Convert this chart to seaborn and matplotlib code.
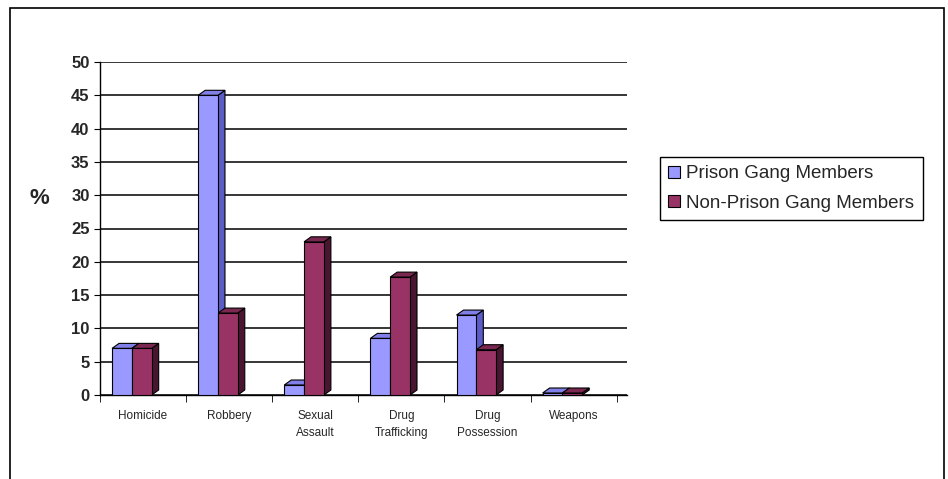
import pandas as pd
import matplotlib.pyplot as plt
import seaborn as sns
from matplotlib.patches import Polygon, Rectangle

sns.set_style('white')
plt.rcParams['font.family'] = ['Liberation Sans', 'DejaVu Sans']

categories = ['Homicide', 'Robbery', 'Sexual\nAssault', 'Drug\nTrafficking', 'Drug\nPossession', 'Weapons']
prison = [7, 45, 1.5, 8.5, 12, 0.3]
non_prison = [7, 12.3, 23, 17.7, 6.8, 0.3]
groups = ['Prison Gang Members', 'Non-Prison Gang Members']
colors = ['#9999FF', '#993366']
side_colors = ['#5C5CC8', '#4A1530']
top_colors = ['#8080E8', '#7A2850']

df = pd.DataFrame({
    'Crime': categories * 2,
    'Group': [groups[0]] * len(categories) + [groups[1]] * len(categories),
    'Percent': prison + non_prison,
})

fig = plt.figure(figsize=(9.48, 4.79), dpi=100)
ax = fig.add_axes([100 / 948, 1 - 395 / 479, 527 / 948, 333 / 479])

sns.barplot(data=df, x='Crime', y='Percent', hue='Group', palette=colors, saturation=1,
            width=0.46, edgecolor='black', linewidth=0.8, ax=ax, zorder=3)

ax.set_ylim(0, 50)
ax.set_xlim(-0.5, 5.62)
ax.set_yticks(range(0, 51, 5))
ax.yaxis.grid(True, color='black', linewidth=1.1)
ax.set_axisbelow(True)
ax.set_xlabel('')
ax.set_ylabel('%', rotation=0, fontsize=16, fontweight='bold', va='center')
ax.yaxis.set_label_coords(-0.115, 0.59)
for s in ['top', 'right']:
    ax.spines[s].set_visible(False)
for s in ['left', 'bottom']:
    ax.spines[s].set_color('black')
    ax.spines[s].set_linewidth(1.0)

ax.tick_params(axis='y', labelsize=12, length=4, color='black', direction='out', left=True)
ax.tick_params(axis='x', labelsize=8.5, length=0, pad=11)
ax.set_xticks([i - 0.5 for i in range(7)], minor=True)
ax.tick_params(axis='x', which='minor', length=5, color='black', bottom=True, direction='out')
for t in ax.get_yticklabels():
    t.set_fontweight('bold')
for t in ax.get_xticklabels():
    t.set_linespacing(1.5)

# 3D-style side and top faces on each bar (front faces sit a little left, as in the original)
ax_w = ax.get_position().width * fig.get_figwidth() * fig.dpi
ax_h = ax.get_position().height * fig.get_figheight() * fig.dpi
dx = 7 / ax_w * (ax.get_xlim()[1] - ax.get_xlim()[0])
dy = 5 / ax_h * (ax.get_ylim()[1] - ax.get_ylim()[0])
shift = 0.13
bars = [p for p in ax.patches if p.get_height() > 0]
n = len(categories)
for i, bar in enumerate(bars[:2 * n]):
    g = i // n
    bar.set_x(bar.get_x() - shift)
    x0, w, h = bar.get_x(), bar.get_width(), bar.get_height()
    side = Polygon([(x0 + w, 0), (x0 + w + dx, dy), (x0 + w + dx, h + dy), (x0 + w, h)],
                   closed=True, facecolor=side_colors[g], edgecolor='black', linewidth=0.8, zorder=2.9)
    top = Polygon([(x0, h), (x0 + dx, h + dy), (x0 + w + dx, h + dy), (x0 + w, h)],
                  closed=True, facecolor=top_colors[g], edgecolor='black', linewidth=0.8, zorder=2.9)
    ax.add_patch(side)
    ax.add_patch(top)

handles, labels = ax.get_legend_handles_labels()
ax.legend_.remove()
fig.legend(handles, labels, loc='upper left', bbox_to_anchor=(660 / 948, 1 - 157 / 479),
           borderaxespad=0, fontsize=13.5, frameon=True, fancybox=False, edgecolor='black',
           handlelength=0.6, handleheight=0.6, handletextpad=0.35, borderpad=0.45,
           labelspacing=0.65, framealpha=1)

fig.patches.append(Rectangle((10 / 948, -0.01), 934 / 948, 1 - 8 / 479 + 0.01,
                             transform=fig.transFigure, fill=False, edgecolor='black',
                             linewidth=1.2))

fig.savefig('out.png', dpi=100)
